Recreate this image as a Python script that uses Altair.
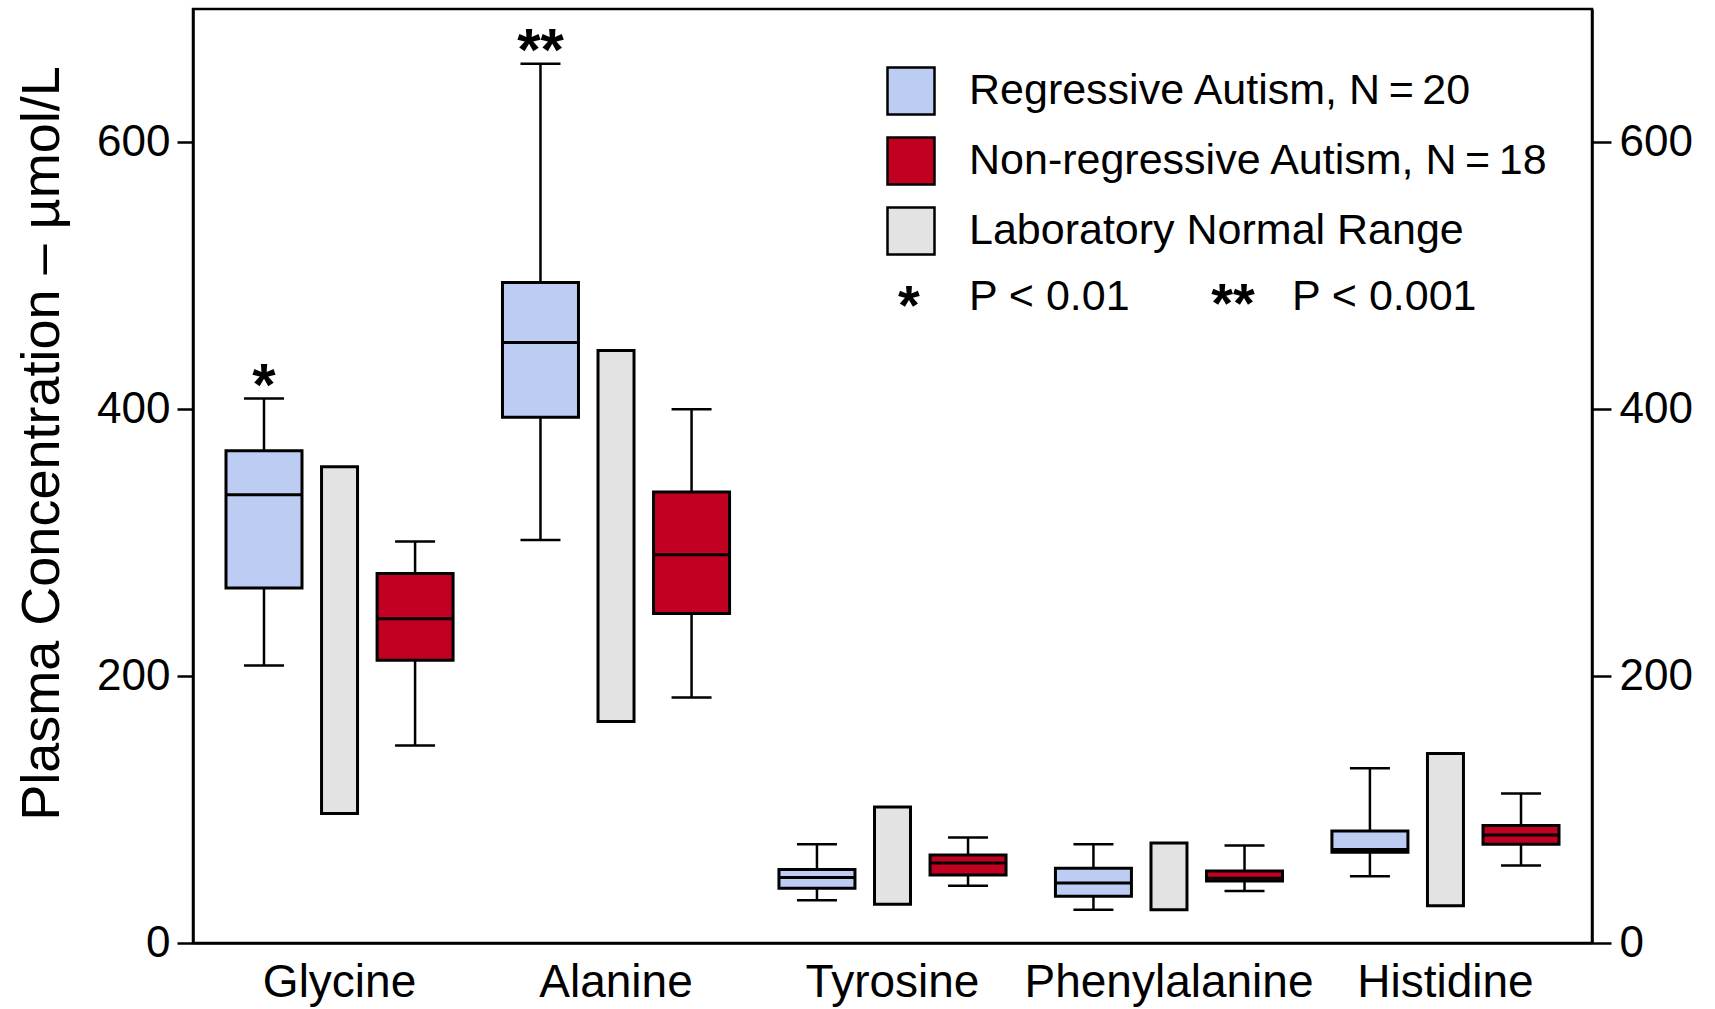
import altair as alt
import pandas as pd

FONT = "Liberation Sans"

# Amino acids along the x axis
AMINO = ["Glycine", "Alanine", "Tyrosine", "Phenylalanine", "Histidine"]

REG = "Regressive Autism, N\u2009=\u200920"
NONREG = "Non-regressive Autism, N\u2009=\u200918"
NORMAL = "Laboratory Normal Range"
LEGEND_ORDER = [REG, NONREG, NORMAL]
SLOT_ORDER = [REG, NORMAL, NONREG]
COLORS = ["#BDCCF2", "#C10022", "#E3E3E3"]

# Regressive autism: whisker low, Q1, median, Q3, whisker high (µmol/L)
reg_lo = [208, 302, 32, 25, 50]
reg_q1 = [266, 394, 41, 35, 68]
reg_med = [336, 450, 49, 45, 70]
reg_q3 = [369, 495, 55, 56, 84]
reg_hi = [408, 659, 74, 74, 131]

# Non-regressive autism
non_lo = [148, 184, 43, 39, 58]
non_q1 = [212, 247, 51, 46.5, 74]
non_med = [243, 291, 60, 48.5, 81]
non_q3 = [277, 338, 66, 54, 88]
non_hi = [301, 400, 79, 73, 112]

# Laboratory normal range
norm_low = [97, 166, 29, 25, 28]
norm_high = [357, 444, 102, 75, 142]

# Significance markers for the regressive group
reg_sig = ["*", "**", "", "", ""]

boxes = pd.concat([
    pd.DataFrame({"amino": AMINO, "group": REG, "lo": reg_lo, "q1": reg_q1,
                  "med": reg_med, "q3": reg_q3, "hi": reg_hi, "sig": reg_sig}),
    pd.DataFrame({"amino": AMINO, "group": NONREG, "lo": non_lo, "q1": non_q1,
                  "med": non_med, "q3": non_q3, "hi": non_hi, "sig": [""] * 5}),
], ignore_index=True)
normal = pd.DataFrame({"amino": AMINO, "group": NORMAL, "low": norm_low, "high": norm_high})
stars = boxes[boxes["sig"] != ""]

yscale = alt.Scale(domain=[0, 700], nice=False, zero=True)
x_enc = alt.X("amino:N", sort=AMINO, title=None,
              scale=alt.Scale(paddingInner=0, paddingOuter=0.03),
              axis=alt.Axis(labelAngle=0, ticks=False, labelFontSize=46, labelFont=FONT,
                            labelColor="black", labelPadding=17, labelLimit=1000,
                            domainColor="black", domainWidth=2.5))
xoff = alt.XOffset("group:N", sort=SLOT_ORDER,
                   scale=alt.Scale(domain=SLOT_ORDER, paddingInner=0, paddingOuter=0.33))
fill = alt.Fill("group:N", scale=alt.Scale(domain=LEGEND_ORDER, range=COLORS),
                legend=alt.Legend(title=None, orient="none", legendX=693, legendY=57,
                                  symbolType="square", symbolSize=2209,
                                  symbolStrokeColor="black", symbolStrokeWidth=2.5,
                                  symbolOpacity=1, labelFont=FONT, labelFontSize=43,
                                  labelColor="black", labelOffset=33, rowPadding=12,
                                  padding=0, labelLimit=1000))

left_axis = alt.Axis(values=[0, 200, 400, 600], tickSize=16, tickWidth=2.5, tickColor="black",
                     labelFont=FONT, labelFontSize=44, labelColor="black", labelPadding=7,
                     domainColor="black", domainWidth=2.5, grid=False,
                     title="Plasma Concentration \u2013 \u00b5mol/L", titleFont=FONT,
                     titleFontSize=54, titleFontWeight="normal", titleColor="black",
                     titleAngle=270, titleX=-135, titleY=434, titleAlign="center",
                     titleBaseline="alphabetic")
right_axis = alt.Axis(orient="right", values=[0, 200, 400, 600], tickSize=19, tickWidth=2.5,
                      tickColor="black", labelFont=FONT, labelFontSize=44, labelColor="black",
                      labelPadding=8, domainColor="black", domainWidth=2.5, grid=False, title=None)


def yl(field):
    # every layer of the main group carries the same left axis so they merge into one
    return alt.Y(field, scale=yscale, axis=left_axis)


whiskers = alt.Chart(boxes).mark_rule(color="black", strokeWidth=2.5).encode(
    x=x_enc, xOffset=xoff, y=yl("lo:Q"), y2="hi:Q")
caps_low = alt.Chart(boxes).mark_tick(color="black", size=40, thickness=2.5, opacity=1).encode(
    x=x_enc, xOffset=xoff, y=yl("lo:Q"))
caps_high = alt.Chart(boxes).mark_tick(color="black", size=40, thickness=2.5, opacity=1).encode(
    x=x_enc, xOffset=xoff, y=yl("hi:Q"))
box_bars = alt.Chart(boxes).mark_bar(size=76, stroke="black", strokeWidth=3, opacity=1).encode(
    x=x_enc, xOffset=xoff, y=yl("q1:Q"), y2="q3:Q", fill=fill)
medians = alt.Chart(boxes).mark_tick(color="black", size=76, thickness=3, opacity=1).encode(
    x=x_enc, xOffset=xoff, y=yl("med:Q"))
sig_text = alt.Chart(stars).mark_text(font=FONT, fontSize=60, fontWeight="bold",
                                      baseline="alphabetic", dy=6, color="black").encode(
    x=x_enc, xOffset=xoff, y=yl("hi:Q"), text="sig:N")

# Significance key under the colour legend
key = pd.DataFrame({"s1": ["*"], "t1": ["P < 0.01"], "s2": ["**"], "t2": ["P < 0.001"]})
key_star1 = alt.Chart(key).mark_text(font=FONT, fontSize=56, fontWeight="bold", align="center",
                                     baseline="alphabetic", color="black").encode(
    text="s1:N", x=alt.value(716), y=alt.value(315))
key_text1 = alt.Chart(key).mark_text(font=FONT, fontSize=43, align="left",
                                     baseline="alphabetic", color="black").encode(
    text="t1:N", x=alt.value(776), y=alt.value(301))
key_star2 = alt.Chart(key).mark_text(font=FONT, fontSize=56, fontWeight="bold", align="center",
                                     baseline="alphabetic", color="black").encode(
    text="s2:N", x=alt.value(1040), y=alt.value(313))
key_text2 = alt.Chart(key).mark_text(font=FONT, fontSize=43, align="left",
                                     baseline="alphabetic", color="black").encode(
    text="t2:N", x=alt.value(1099), y=alt.value(301))

main = alt.layer(whiskers, caps_low, caps_high, box_bars, medians, sig_text,
                 key_star1, key_text1, key_star2, key_text2)

normal_bars = alt.Chart(normal).mark_bar(size=36, stroke="black", strokeWidth=3, opacity=1).encode(
    x=x_enc, xOffset=xoff,
    y=alt.Y("low:Q", scale=yscale, axis=right_axis), y2="high:Q",
    fill=fill,
)

chart = alt.layer(main, normal_bars).resolve_scale(y="independent").properties(
    width=1399, height=934,
    autosize=alt.AutoSizeParams(type="none"),
    padding={"left": 193, "top": 9, "right": 123, "bottom": 66},
    background="white",
).configure_view(stroke="black", strokeWidth=2.5)

chart.save("out.html", embed_options={"renderer": "svg", "actions": False})
